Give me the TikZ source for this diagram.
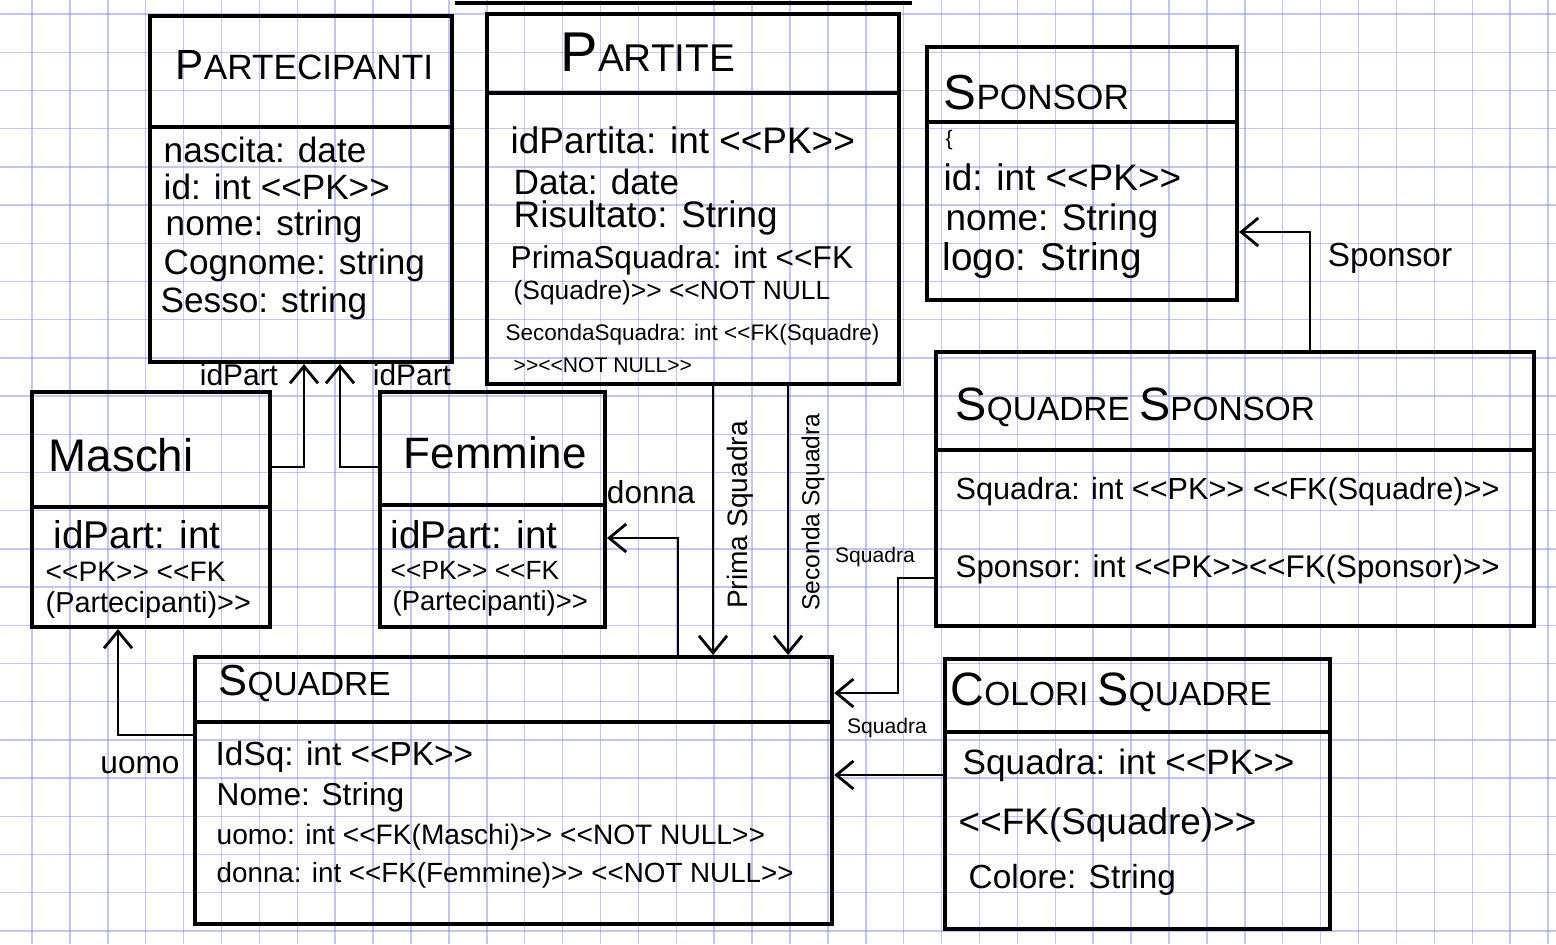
\documentclass[tikz,border=0pt]{standalone}
\usepackage{fontspec}
\setmainfont{Liberation Sans}
\usetikzlibrary{arrows.meta}
\newcommand{\fsz}[1]{\fontsize{#1}{#1}\selectfont}
\newcommand{\ini}[2][1.4]{\scalebox{#1}{#2}}
\newcommand{\lla}{<\kern0pt<}
\newcommand{\rra}{>\kern0pt>}
\begin{document}
\begin{tikzpicture}[x=0.01cm, y=-0.01cm,
  paperline/.style={draw={rgb,255:red,120;green,132;blue,215}, opacity=0.45, line width=0.4pt},
  box/.style={draw, line width=1.1pt, inner sep=0pt, anchor=north west},
  sepline/.style={line width=1.1pt},
  attr/.style={anchor=west, inner sep=0pt},
  ttl/.style={anchor=west, inner sep=0pt},
  lbl/.style={inner sep=0pt},
  conn/.style={line width=0.8pt, -{Straight Barb[length=1.7mm,width=2.8mm]}}]
\useasboundingbox (0,0) rectangle (1556,944);
% graph paper
\foreach \i in {0,...,40} \draw[paperline] ({32+37.9*\i},0) -- ({32+37.9*\i},944);
\foreach \j in {0,...,24} \draw[paperline] (0,{14+38.2*\j}) -- (1556,{14+38.2*\j});
\draw[sepline] (455,3) -- (912,3);

% PARTECIPANTI
\node[box, minimum width=3.02cm, minimum height=3.46cm] (part) at (148,14) {};
\draw[sepline] (part.west |- 0,127) -- (part.east |- 0,127);
\node[ttl, font=\fsz{10}] (partT) at (175,65) {\ini[1.2]{P}ARTECIPANTI};
\node[attr, font=\fsz{10}] (p1) at (163,150) {nascita: date};
\node[attr, font=\fsz{10}] (p2) at (163,187) {id: int \lla PK\rra};
\node[attr, font=\fsz{10}] (p3) at (165,226) {nome: string};
\node[attr, font=\fsz{10}] (p4) at (163,265) {Cognome: string};
\node[attr, font=\fsz{10}] (p5) at (160,303) {Sesso: string};

% PARTITE
\node[box, minimum width=4.12cm, minimum height=3.70cm] (partite) at (485,12) {};
\draw[sepline] (partite.west |- 0,93) -- (partite.east |- 0,93);
\node[ttl, font=\fsz{11}] (partiteT) at (560,52) {\ini[1.45]{P}ARTITE};
\node[attr, font=\fsz{10.5}] (q1) at (510,140) {idPartita: int \lla PK\rra};
\node[attr, font=\fsz{10}] (q2) at (513,182) {Data: date};
\node[attr, font=\fsz{10.5}] (q3) at (513,218) {Risultato: String};
\node[attr, font=\fsz{9}] (q4) at (510,260) {PrimaSquadra: int \lla FK};
\node[attr, font=\fsz{7.5}] (q5) at (513,293) {(Squadre)\rra{} \lla NOT NULL};
\node[attr, font=\fsz{6.4}] (q6) at (505,335) {SecondaSquadra: int \lla FK(Squadre)};
\node[attr, font=\fsz{6}] (q7) at (513,365) {\rra\lla NOT NULL\rra};

% SPONSOR
\node[box, minimum width=3.10cm, minimum height=2.53cm] (sponsor) at (925,45) {};
\draw[sepline] (sponsor.west |- 0,122) -- (sponsor.east |- 0,122);
\node[ttl, font=\fsz{10}] (sponsorT) at (943,93) {\ini{S}PONSOR};
\node[attr, font=\fsz{6}] (s0) at (945,140) {\{};
\node[attr, font=\fsz{10.5}] (s1) at (943,177) {id: int \lla PK\rra};
\node[attr, font=\fsz{10.5}] (s2) at (945,221) {nome: String};
\node[attr, font=\fsz{11}] (s3) at (942,260) {logo: String};

% SQUADRE SPONSOR
\node[box, minimum width=5.98cm, minimum height=2.74cm] (sqsp) at (934,350) {};
\draw[sepline] (sqsp.west |- 0,450) -- (sqsp.east |- 0,450);
\node[ttl, font=\fsz{9.5}] (sqspT) at (955,407) {\ini{S}QUADRE \ini{S}PONSOR};
\node[attr, font=\fsz{8.7}] (r1) at (955,492) {Squadra: int \lla PK\rra{} \lla FK(Squadre)\rra};
\node[attr, font=\fsz{8.9}] (r2) at (955,569) {Sponsor: int \lla PK\rra\lla FK(Sponsor)\rra};

% MASCHI
\node[box, minimum width=2.38cm, minimum height=2.35cm] (maschi) at (30,390) {};
\draw[sepline] (maschi.west |- 0,507) -- (maschi.east |- 0,507);
\node[ttl, font=\fsz{13}] (maschiT) at (48,455) {Maschi};
\node[attr, font=\fsz{11}] (m1) at (53,535) {idPart: int};
\node[attr, font=\fsz{8}] (m2) at (45,572) {\lla PK\rra{} \lla FK};
\node[attr, font=\fsz{8.2}] (m3) at (45,605) {(Partecipanti)\rra};

% FEMMINE
\node[box, minimum width=2.25cm, minimum height=2.35cm] (femmine) at (378,390) {};
\draw[sepline] (femmine.west |- 0,505) -- (femmine.east |- 0,505);
\node[ttl, font=\fsz{12.5}] (femmineT) at (403,453) {Femmine};
\node[attr, font=\fsz{11}] (f1) at (390,535) {idPart: int};
\node[attr, font=\fsz{7.5}] (f2) at (390,570) {\lla PK\rra{} \lla FK};
\node[attr, font=\fsz{7.8}] (f3) at (392,603) {(Partecipanti)\rra};

% SQUADRE
\node[box, minimum width=6.37cm, minimum height=2.67cm] (squadre) at (193,655) {};
\draw[sepline] (squadre.west |- 0,722) -- (squadre.east |- 0,722);
\node[ttl, font=\fsz{9.5}] (squadreT) at (218,683) {\ini[1.3]{S}QUADRE};
\node[attr, font=\fsz{9.5}] (d1) at (215,757) {IdSq: int \lla PK\rra};
\node[attr, font=\fsz{9}] (d2) at (216,797) {Nome: String};
\node[attr, font=\fsz{8}] (d3) at (216,837) {uomo: int \lla FK(Maschi)\rra{} \lla NOT NULL\rra};
\node[attr, font=\fsz{7.9}] (d4) at (216,875) {donna: int \lla FK(Femmine)\rra{} \lla NOT NULL\rra};

% COLORI SQUADRE
\node[box, minimum width=3.85cm, minimum height=2.70cm] (colori) at (943,657) {};
\draw[sepline] (colori.west |- 0,732) -- (colori.east |- 0,732);
\node[ttl, font=\fsz{9.5}] (coloriT) at (950,692) {\ini{C}OLORI \ini{S}QUADRE};
\node[attr, font=\fsz{10}] (c1) at (962,765) {Squadra: int \lla PK\rra};
\node[attr, font=\fsz{10.5}] (c2) at (958,825) {\lla FK(Squadre)\rra};
\node[attr, font=\fsz{9.5}] (c3) at (968,880) {Colore: String};

% connectors
\draw[conn] (maschi.east |- 0,467) -| (part.south -| 304,0);
\draw[conn] (femmine.west |- 0,467) -| (part.south -| 340,0);
\draw[conn] (squadre.west |- 0,735) -| (maschi.south -| 118,0);
\draw[conn] (squadre.north -| 678,0) |- (femmine.east |- 0,538);
\draw[conn] (partite.south -| 713,0) -- (squadre.north -| 713,0);
\draw[conn] (partite.south -| 788,0) -- (squadre.north -| 788,0);
\coordinate (k1) at (898,693);
\draw[conn] (sqsp.west |- 0,578) -| (k1) -- (squadre.east |- k1);
\draw[conn] (colori.west |- 0,775) -- (squadre.east |- 0,775);
\draw[conn] (sqsp.north -| 1310,0) |- (sponsor.east |- 0,232);

% connector labels
\node[lbl, font=\fsz{8.5}] (l1) at (239,375) {idPart};
\node[lbl, font=\fsz{8.5}] (l2) at (412,375) {idPart};
\node[lbl, font=\fsz{9}] (l3) at (651,492) {donna};
\node[lbl, font=\fsz{8}, rotate=90] (l4) at (740,515) {Prima Squadra};
\node[lbl, font=\fsz{7}, rotate=90] (l5) at (813,512) {Seconda Squadra};
\node[lbl, font=\fsz{6}] (l6) at (875,557) {Squadra};
\node[lbl, font=\fsz{6}] (l7) at (887,728) {Squadra};
\node[lbl, font=\fsz{9.5}] (l8) at (1390,258) {Sponsor};
\node[lbl, font=\fsz{9}] (l9) at (140,765) {uomo};
\end{tikzpicture}
\end{document}
